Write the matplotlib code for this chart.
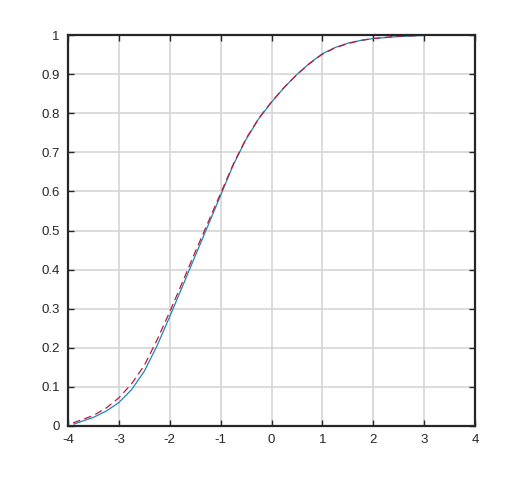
import numpy as np
import matplotlib
matplotlib.use('Agg')
import matplotlib.pyplot as plt

# empirical cdf (blue, solid)
emp_x = [-3.88, -3.75, -3.5, -3.25, -3.0, -2.75, -2.5, -2.25, -2.0, -1.75, -1.5,
         -1.25, -1.0, -0.75, -0.5, -0.25, 0.0, 0.25, 0.5, 0.75, 1.0, 1.25, 1.5,
         1.75, 2.0, 2.5, 3.0, 3.6]
emp_y = [0.005, 0.011, 0.022, 0.038, 0.060, 0.093, 0.140, 0.205, 0.280, 0.357, 0.435,
         0.512, 0.590, 0.668, 0.733, 0.786, 0.828, 0.866, 0.899, 0.928, 0.952, 0.968, 0.979,
         0.986, 0.991, 0.996, 0.999, 1.0]

# fitted cdf (red, dashed)
fit_x = [-3.9, -3.75, -3.5, -3.25, -3.0, -2.75, -2.5, -2.25, -2.0, -1.75, -1.5,
         -1.25, -1.0, -0.75, -0.5, -0.25, 0.0, 0.25, 0.5, 0.75, 1.0, 1.25, 1.5,
         1.75, 2.0, 2.5, 3.0, 3.5]
fit_y = [0.008, 0.015, 0.027, 0.046, 0.072, 0.108, 0.155, 0.220, 0.292, 0.368, 0.445,
         0.520, 0.595, 0.670, 0.735, 0.787, 0.829, 0.866, 0.899, 0.927, 0.951, 0.967, 0.978,
         0.986, 0.991, 0.997, 0.999, 1.0]

x_ticks = [-4, -3, -2, -1, 0, 1, 2, 3, 4]
y_ticks = [0, 0.1, 0.2, 0.3, 0.4, 0.5, 0.6, 0.7, 0.8, 0.9, 1]
y_labels = ['0', '0.1', '0.2', '0.3', '0.4', '0.5', '0.6', '0.7', '0.8', '0.9', '1']

plt.rcParams['font.family'] = ['Liberation Sans', 'DejaVu Sans']
plt.rcParams['axes.unicode_minus'] = False

fig = plt.figure(figsize=(5.25, 4.79), dpi=100)
ax = fig.add_axes([68 / 525, 1 - 426 / 479, 407 / 525, 391 / 479])

ax.plot(emp_x, emp_y, color='#1f86b8', lw=0.9)
ax.plot(fit_x, fit_y, color='#c01838', lw=0.9, linestyle=(0, (6, 3.5)))

ax.set_xlim(-4, 4)
ax.set_ylim(0, 1)
ax.set_xticks(x_ticks)
ax.set_yticks(y_ticks)
ax.set_yticklabels(y_labels)
ax.grid(True, color='#d6d6d6', lw=1.2)
ax.set_axisbelow(True)
ax.tick_params(direction='in', length=4, width=1, top=True, right=True,
               labelsize=9.5, colors='#262626', pad=6)
for s in ax.spines.values():
    s.set_linewidth(1.6)
    s.set_color('#262626')

fig.savefig('out.png', dpi=100)
